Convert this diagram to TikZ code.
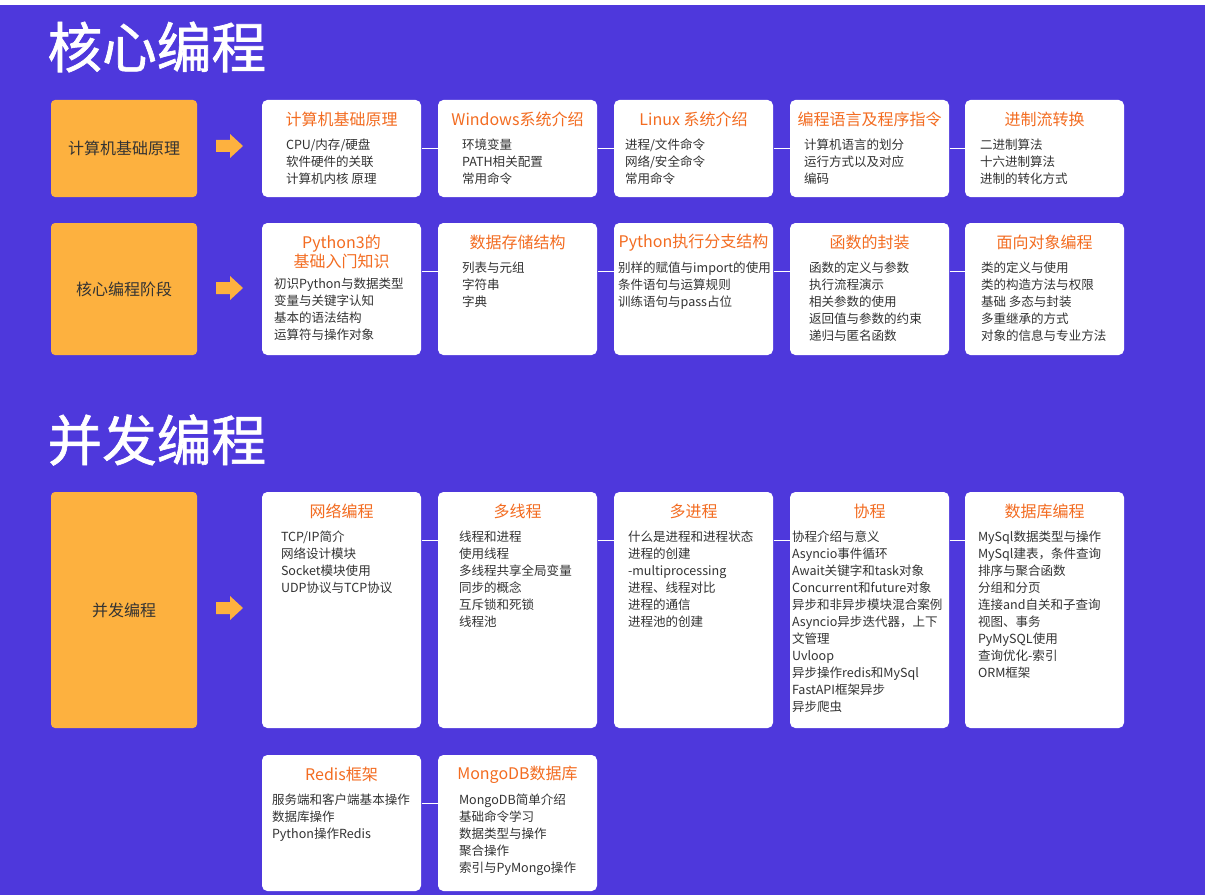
\documentclass[tikz,border=0pt]{standalone}
\usepackage{fontspec}
\setmainfont{Noto Sans CJK SC}
\newfontfamily\headfont[FakeBold=1.2]{Noto Sans CJK SC}
\usetikzlibrary{calc}
\definecolor{bgpurple}{HTML}{4E38DC}
\definecolor{boxorange}{HTML}{FDB13F}
\definecolor{titleorange}{HTML}{F36C21}
\definecolor{bodygray}{HTML}{333333}

\tikzset{every picture/.style={line width=0.75pt},
  stagebox/.style={fill=boxorange, rounded corners=3pt, minimum width=109.5pt, inner sep=0pt, text=bodygray, font=\fontsize{12}{14}\selectfont},
  topicbox/.style={fill=white, rounded corners=4pt, minimum width=119.25pt, inner sep=0pt},
  topictitle/.style={text=titleorange, inner sep=0pt, align=center, font=\fontsize{12}{14.25}\selectfont},
  topicbody/.style={anchor=north west, text=bodygray, inner sep=0pt, align=left, font=\fontsize{9.4}{12.75}\selectfont},
  bigtitle/.style={anchor=west, text=white, inner sep=0pt, font=\headfont\fontsize{41}{48}\selectfont},
  link/.style={draw=white, line width=0.75pt},
  blockarrow/.style={fill=boxorange}
}

\begin{document}
\begin{tikzpicture}[x=0.75pt,y=0.75pt,yscale=-1,xscale=1]
\useasboundingbox (0,0) rectangle (1205,895);

%Background
\fill[white] (0,0) rectangle (1205,5);
\fill[bgpurple] (0,5) rectangle (1205,895);

% Section titles
\node[bigtitle] (core) at (47,47) {核心编程};
\node[bigtitle] (conc) at (47,440) {并发编程};

% Stage boxes
\node[stagebox, minimum height=72.75pt] (s1) at (124,148.5) {计算机基础原理};
\node[stagebox, minimum height=99pt] (s2) at (124,289) {核心编程阶段};
\node[stagebox, minimum height=177pt] (s3) at (124,610) {并发编程};

% Block arrows
\fill[blockarrow] (216,140) -- (230,140) -- (230,134) -- (243,146) -- (230,158) -- (230,152) -- (216,152) -- cycle;
\fill[blockarrow] (216,282) -- (230,282) -- (230,276) -- (243,288) -- (230,300) -- (230,294) -- (216,294) -- cycle;
\fill[blockarrow] (216,602) -- (230,602) -- (230,596) -- (243,608) -- (230,620) -- (230,614) -- (216,614) -- cycle;

% Row 1
\node[topicbox, minimum height=72.75pt] (b11) at (341.5,148.5) {};
\node[topicbox, minimum height=72.75pt] (b12) at (517.5,148.5) {};
\node[topicbox, minimum height=72.75pt] (b13) at (693.5,148.5) {};
\node[topicbox, minimum height=72.75pt] (b14) at (869.5,148.5) {};
\node[topicbox, minimum height=72.75pt] (b15) at (1044.5,148.5) {};

% Row 2
\node[topicbox, minimum height=99pt] (b21) at (341.5,289) {};
\node[topicbox, minimum height=99pt] (b22) at (517.5,289) {};
\node[topicbox, minimum height=99pt] (b23) at (693.5,289) {};
\node[topicbox, minimum height=99pt] (b24) at (869.5,289) {};
\node[topicbox, minimum height=99pt] (b25) at (1044.5,289) {};

% Row 3
\node[topicbox, minimum height=177pt] (b31) at (341.5,610) {};
\node[topicbox, minimum height=177pt] (b32) at (517.5,610) {};
\node[topicbox, minimum height=177pt] (b33) at (693.5,610) {};
\node[topicbox, minimum height=177pt] (b34) at (869.5,610) {};
\node[topicbox, minimum height=177pt] (b35) at (1044.5,610) {};

% Row 4
\node[topicbox, minimum height=102pt] (b41) at (341.5,823) {};
\node[topicbox, minimum height=102pt] (b42) at (517.5,823) {};

% Links
\draw[link] ($(b11.north east)+(0,49)$) -- ($(b12.north west)+(0,49)$);
\draw[link] ($(b12.north east)+(0,49)$) -- ($(b13.north west)+(0,49)$);
\draw[link] ($(b13.north east)+(0,49)$) -- ($(b14.north west)+(0,49)$);
\draw[link] ($(b14.north east)+(0,49)$) -- ($(b15.north west)+(0,49)$);
\draw[link] ($(b21.north east)+(0,49)$) -- ($(b22.north west)+(0,49)$);
\draw[link] ($(b22.north east)+(0,49)$) -- ($(b23.north west)+(0,49)$);
\draw[link] ($(b23.north east)+(0,49)$) -- ($(b24.north west)+(0,49)$);
\draw[link] ($(b24.north east)+(0,49)$) -- ($(b25.north west)+(0,49)$);
\draw[link] ($(b31.north east)+(0,49)$) -- ($(b32.north west)+(0,49)$);
\draw[link] ($(b32.north east)+(0,49)$) -- ($(b33.north west)+(0,49)$);
\draw[link] ($(b33.north east)+(0,49)$) -- ($(b34.north west)+(0,49)$);
\draw[link] ($(b34.north east)+(0,49)$) -- ($(b35.north west)+(0,49)$);
\draw[link] ($(b41.north east)+(0,49)$) -- ($(b42.north west)+(0,49)$);

% Row 1 texts
\node[topictitle] (t11) at ($(b11.north)+(0,20)$) {计算机基础原理};
\node[topicbody] (d11) at ($(b11.north west)+(24,39)$) {CPU/内存/硬盘\\软件硬件的关联\\计算机内核 原理};
\node[topictitle] (t12) at ($(b12.north)+(0,20)$) {Windows系统介绍};
\node[topicbody] (d12) at ($(b12.north west)+(24,39)$) {环境变量\\PATH相关配置\\常用命令};
\node[topictitle] (t13) at ($(b13.north)+(0,20)$) {Linux 系统介绍};
\node[topicbody] (d13) at ($(b13.north west)+(11,39)$) {进程/文件命令\\网络/安全命令\\常用命令};
\node[topictitle] (t14) at ($(b14.north)+(0,20)$) {编程语言及程序指令};
\node[topicbody] (d14) at ($(b14.north west)+(14,39)$) {计算机语言的划分\\运行方式以及对应\\编码};
\node[topictitle] (t15) at ($(b15.north)+(0,20)$) {进制流转换};
\node[topicbody] (d15) at ($(b15.north west)+(15,39)$) {二进制算法\\十六进制算法\\进制的转化方式};

% Row 2 texts
\node[topictitle] (t21) at ($(b21.north)+(0,29.5)$) {Python3的\\基础入门知识};
\node[topicbody] (d21) at ($(b21.north west)+(12,55)$) {初识Python与数据类型\\变量与关键字认知\\基本的语法结构\\运算符与操作对象};
\node[topictitle] (t22) at ($(b22.north)+(0,20)$) {数据存储结构};
\node[topicbody] (d22) at ($(b22.north west)+(24,39)$) {列表与元组\\字符串\\字典};
\node[topictitle] (t23) at ($(b23.north)+(0,20)$) {Python执行分支结构};
\node[topicbody] (d23) at ($(b23.north west)+(4,39)$) {别样的赋值与import的使用\\条件语句与运算规则\\训练语句与pass占位};
\node[topictitle] (t24) at ($(b24.north)+(0,20)$) {函数的封装};
\node[topicbody] (d24) at ($(b24.north west)+(19,39)$) {函数的定义与参数\\执行流程演示\\相关参数的使用\\返回值与参数的约束\\递归与匿名函数};
\node[topictitle] (t25) at ($(b25.north)+(0,20)$) {面向对象编程};
\node[topicbody] (d25) at ($(b25.north west)+(16,39)$) {类的定义与使用\\类的构造方法与权限\\基础 多态与封装\\多重继承的方式\\对象的信息与专业方法};

% Row 3 texts
\node[topictitle] (t31) at ($(b31.north)+(0,20)$) {网络编程};
\node[topicbody] (d31) at ($(b31.north west)+(19,39)$) {TCP/IP简介\\网络设计模块\\Socket模块使用\\UDP协议与TCP协议};
\node[topictitle] (t32) at ($(b32.north)+(0,20)$) {多线程};
\node[topicbody] (d32) at ($(b32.north west)+(21,39)$) {线程和进程\\使用线程\\多线程共享全局变量\\同步的概念\\互斥锁和死锁\\线程池};
\node[topictitle] (t33) at ($(b33.north)+(0,20)$) {多进程};
\node[topicbody] (d33) at ($(b33.north west)+(14,39)$) {什么是进程和进程状态\\进程的创建\\-multiprocessing\\进程、线程对比\\进程的通信\\进程池的创建};
\node[topictitle] (t34) at ($(b34.north)+(0,20)$) {协程};
\node[topicbody] (d34) at ($(b34.north west)+(2,39)$) {协程介绍与意义\\Asyncio事件循环\\Await关键字和task对象\\Concurrent和future对象\\异步和非异步模块混合案例\\Asyncio异步迭代器，上下\\文管理\\Uvloop\\异步操作redis和MySql\\FastAPI框架异步\\异步爬虫};
\node[topictitle] (t35) at ($(b35.north)+(0,20)$) {数据库编程};
\node[topicbody] (d35) at ($(b35.north west)+(13,39)$) {MySql数据类型与操作\\MySql建表，条件查询\\排序与聚合函数\\分组和分页\\连接and自关和子查询\\视图、事务\\PyMySQL使用\\查询优化-索引\\ORM框架};

% Row 4 texts
\node[topictitle] (t41) at ($(b41.north)+(0,20)$) {Redis框架};
\node[topicbody] (d41) at ($(b41.north west)+(10,39)$) {服务端和客户端基本操作\\数据库操作\\Python操作Redis};
\node[topictitle] (t42) at ($(b42.north)+(0,20)$) {MongoDB数据库};
\node[topicbody] (d42) at ($(b42.north west)+(21,39)$) {MongoDB简单介绍\\基础命令学习\\数据类型与操作\\聚合操作\\索引与PyMongo操作};
\end{tikzpicture}
\end{document}
